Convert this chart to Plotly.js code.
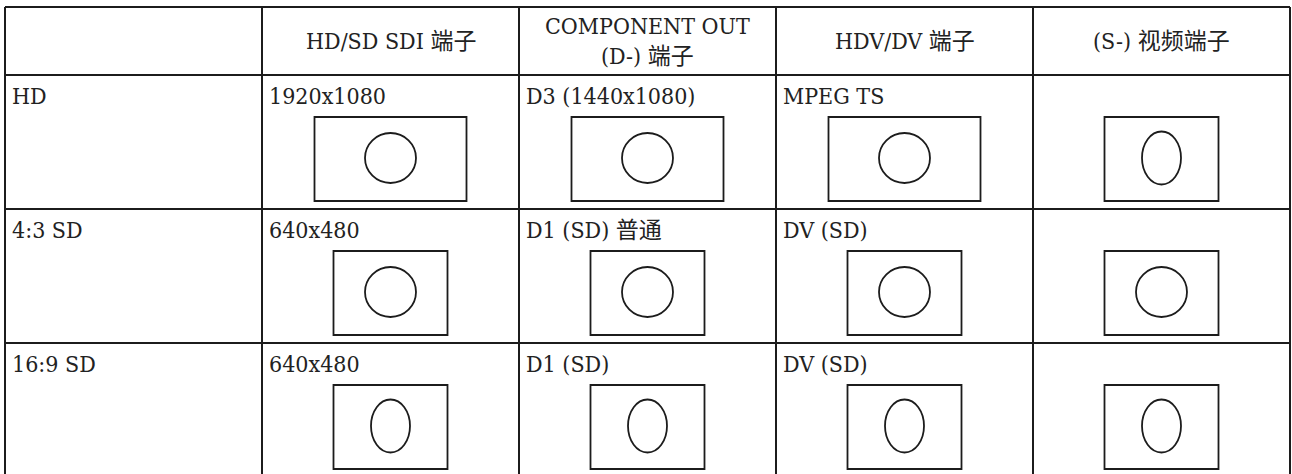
<!DOCTYPE html>
<html>
<head>
<meta charset="utf-8">
<script src="https://cdn.plot.ly/plotly-3.0.1.min.js"></script>
<style>
  html, body { margin: 0; padding: 0; background: #ffffff; }
  #chart { width: 1292px; height: 474px; }
</style>
</head>
<body>
<div id="chart"></div>
<script>
// ---------- data ----------
const columnHeaders = ['', 'HD/SD SDI 端子', 'COMPONENT OUT<br>(D-) 端子', 'HDV/DV 端子', '(S-) 视频端子'];
const rowLabels = ['HD', '4:3 SD', '16:9 SD'];

const captionsHD   = ['1920x1080', 'D3 (1440x1080)', 'MPEG TS', ''];
const captions43   = ['640x480', 'D1 (SD) 普通', 'DV (SD)', ''];
const captions169  = ['640x480', 'D1 (SD)', 'DV (SD)', ''];

const framesHD  = ['16:9', '16:9', '16:9', '4:3'];
const frames43  = ['4:3', '4:3', '4:3', '4:3'];
const frames169 = ['4:3', '4:3', '4:3', '4:3'];

const picturesHD  = ['circle', 'circle', 'circle', 'squeezed'];
const pictures43  = ['circle', 'circle', 'circle', 'circle'];
const pictures169 = ['squeezed', 'squeezed', 'squeezed', 'squeezed'];

const rowCaptions = [captionsHD, captions43, captions169];
const rowFrames   = [framesHD, frames43, frames169];
const rowPictures = [picturesHD, pictures43, pictures169];

// ---------- styles / layout constants ----------
const W = 1292, HGT = 474;
const COL_PX = 257, ROW_PX = 134, HEADER_PX = 68;
const LEFT_PX = 5, TOP_PX = 7;
const HDR = HEADER_PX / ROW_PX;           // header height in row units
const ux = p => p / COL_PX;               // px -> column units
const uy = p => p / ROW_PX;               // px -> row units

const FRAME = { '16:9': { w: 152, h: 84 }, '4:3': { w: 114, h: 84 } };
const PICTURE = { circle: { w: 51, h: 50 }, squeezed: { w: 39, h: 53 } };
const FRAME_TOP = 42;   // px from row top
const TEXT_PAD = 5;     // px from cell left
const TEXT_DY = 21;     // px from row top to text middle

const INK = '#1c1c1c';
const FONT = { family: '"DejaVu Serif Condensed", "Liberation Serif", "Noto Sans CJK SC", serif', size: 23, color: '#222222' };

const nCols = columnHeaders.length;
const nRows = rowLabels.length;

const shapes = [];
const annotations = [];

// grid lines
for (let c = 0; c <= nCols; c++) {
  shapes.push({ type: 'line', xref: 'x', yref: 'y', x0: c, x1: c, y0: 0, y1: HDR + nRows,
    line: { color: INK, width: 2 } });
}
const hLines = [0, HDR];
for (let r = 1; r <= nRows; r++) hLines.push(HDR + r);
hLines.forEach(y => shapes.push({ type: 'line', xref: 'x', yref: 'y', x0: 0, x1: nCols, y0: y, y1: y,
  line: { color: INK, width: 2 } }));

// header texts
columnHeaders.forEach((t, c) => {
  if (!t) return;
  annotations.push({ xref: 'x', yref: 'y', x: c + 0.5, y: HDR / 2, text: t, showarrow: false,
    xanchor: 'center', yanchor: 'middle', align: 'center', font: FONT });
});

// rows
rowLabels.forEach((lab, r) => {
  const top = HDR + r;
  annotations.push({ xref: 'x', yref: 'y', x: ux(TEXT_PAD), y: top + uy(TEXT_DY), text: lab,
    showarrow: false, xanchor: 'left', yanchor: 'middle', font: FONT });
  rowCaptions[r].forEach((cap, i) => {
    const c = i + 1;
    if (cap) {
      annotations.push({ xref: 'x', yref: 'y', x: c + ux(TEXT_PAD), y: top + uy(TEXT_DY), text: cap,
        showarrow: false, xanchor: 'left', yanchor: 'middle', font: FONT });
    }
    const f = FRAME[rowFrames[r][i]];
    const cx = c + 0.5;
    const cy = top + uy(FRAME_TOP + f.h / 2);
    shapes.push({ type: 'rect', xref: 'x', yref: 'y',
      x0: cx - ux(f.w / 2), x1: cx + ux(f.w / 2), y0: cy - uy(f.h / 2), y1: cy + uy(f.h / 2),
      line: { color: INK, width: 1.8 }, fillcolor: 'rgba(0,0,0,0)' });
    const p = PICTURE[rowPictures[r][i]];
    const ecy = cy - uy(1);
    shapes.push({ type: 'circle', xref: 'x', yref: 'y',
      x0: cx - ux(p.w / 2), x1: cx + ux(p.w / 2), y0: ecy - uy(p.h / 2), y1: ecy + uy(p.h / 2),
      line: { color: INK, width: 1.8 }, fillcolor: 'rgba(0,0,0,0)' });
  });
});

const xRange = [-ux(LEFT_PX), -ux(LEFT_PX) + ux(W)];
const yRange = [-uy(TOP_PX) + uy(HGT), -uy(TOP_PX)];

const layout = {
  width: W, height: HGT,
  margin: { l: 0, r: 0, t: 0, b: 0, pad: 0 },
  paper_bgcolor: '#ffffff', plot_bgcolor: '#ffffff',
  showlegend: false,
  xaxis: { range: xRange, visible: false, fixedrange: true },
  yaxis: { range: yRange, visible: false, fixedrange: true },
  shapes: shapes,
  annotations: annotations
};

Plotly.newPlot('chart', [], layout, { staticPlot: true, displayModeBar: false });
</script>
</body>
</html>
